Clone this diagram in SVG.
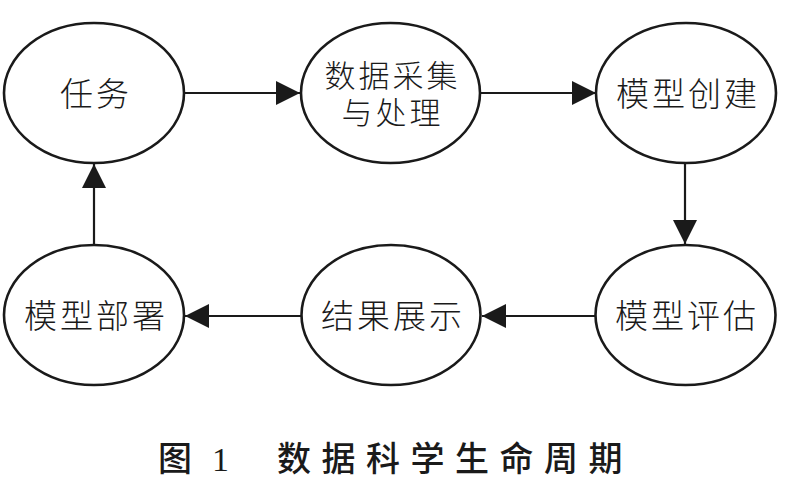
<svg xmlns="http://www.w3.org/2000/svg" width="800" height="483" viewBox="0 0 800 483">
<style>
.node ellipse{fill:#fff;stroke:#1a1a1a;stroke-width:2.6}
.node text{font-family:"Noto Sans CJK SC","Noto Sans",sans-serif;font-size:33px;font-weight:300;fill:#1a1a1a;text-anchor:middle;letter-spacing:3px}
.node text.s{font-size:31px}
.edge{stroke:#1a1a1a;stroke-width:2.2;fill:none;marker-end:url(#ah)}
.cap{font-family:"Noto Sans CJK SC",sans-serif;font-size:34px;font-weight:500;fill:#1a1a1a}
</style>
<defs>
<marker id="ah" markerUnits="userSpaceOnUse" markerWidth="24" markerHeight="24" refX="24" refY="12" orient="auto" viewBox="0 0 24 24">
<path d="M0,0 L24,12 L0,24 z" fill="#1a1a1a"/>
</marker>
</defs>
<rect width="800" height="483" fill="#fff"/>
<g id="edges">
<line class="edge" x1="184" y1="93" x2="300" y2="93"/>
<line class="edge" x1="480" y1="93" x2="596" y2="93"/>
<line class="edge" x1="685" y1="163" x2="685" y2="244"/>
<line class="edge" x1="595" y1="316" x2="482" y2="316"/>
<line class="edge" x1="302" y1="316" x2="185" y2="316"/>
<line class="edge" x1="94" y1="245" x2="94" y2="164"/>
</g>
<g id="n1" class="node">
<ellipse cx="94" cy="93" rx="90" ry="70"/>
<text x="96" y="105.5">任务</text>
</g>
<g id="n2" class="node">
<ellipse cx="390.5" cy="93" rx="89.5" ry="70"/>
<text class="s" letter-spacing="5"><tspan x="392.5" y="87">数据采集</tspan><tspan x="392.5" y="124">与处理</tspan></text>
</g>
<g id="n3" class="node">
<ellipse cx="686" cy="93" rx="90" ry="70"/>
<text x="688" y="105.5">模型创建</text>
</g>
<g id="n4" class="node">
<ellipse cx="685.5" cy="315" rx="90" ry="70"/>
<text x="687" y="328">模型评估</text>
</g>
<g id="n5" class="node">
<ellipse cx="391" cy="315" rx="89.5" ry="70"/>
<text x="393" y="328">结果展示</text>
</g>
<g id="n6" class="node">
<ellipse cx="94" cy="315" rx="90" ry="70"/>
<text x="96" y="328">模型部署</text>
</g>
<g id="caption">
<text class="cap" x="158" y="471">图</text>
<text x="212" y="471" font-family="Liberation Serif,serif" font-size="34" fill="#1a1a1a">1</text>
<text class="cap" x="277" y="471" letter-spacing="10.5">数据科学生命周期</text>
</g>
</svg>
